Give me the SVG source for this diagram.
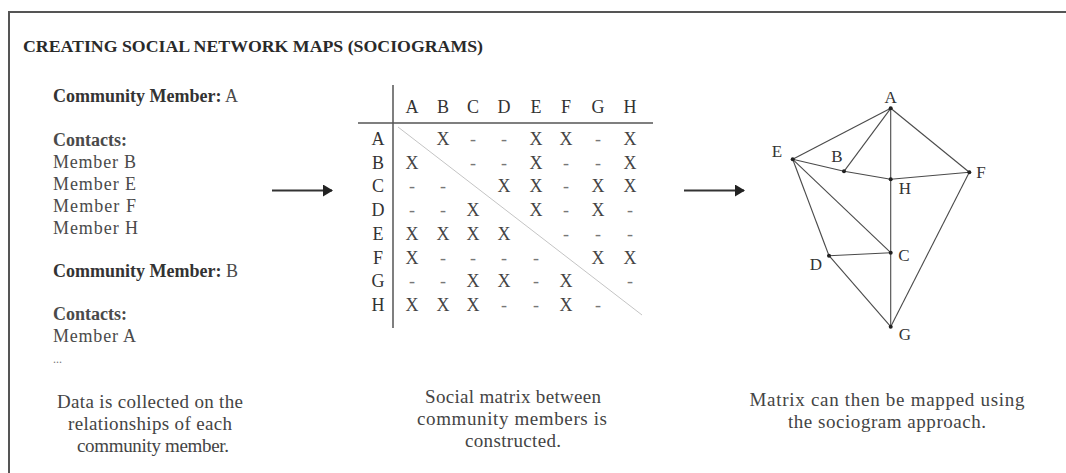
<svg xmlns="http://www.w3.org/2000/svg" width="1066" height="473" viewBox="0 0 1066 473">
<style>
text{font-family:"Liberation Serif","Times New Roman",serif;}
.title{font-size:17px;font-weight:bold;fill:#2a2a2a;}
.b{font-weight:bold;fill:#333;}
.body{font-size:18px;fill:#4a4a4a;}
.cap{font-size:19px;fill:#444;text-anchor:middle;}
.mh{font-size:18px;fill:#333;text-anchor:middle;}
.mc{font-size:18px;fill:#444;text-anchor:middle;}
.md{font-size:18px;fill:#777;text-anchor:middle;}
.nl{font-size:17px;fill:#333;text-anchor:middle;}
.edge{stroke:#4a4a4a;stroke-width:1.1;fill:none;}
.dot{fill:#222;}
.arr{stroke:#333;stroke-width:2.2;fill:none;}
</style>
<defs>
<marker id="ah" viewBox="0 0 10 12" refX="9" refY="6" markerWidth="10" markerHeight="12" markerUnits="userSpaceOnUse" orient="auto">
<path d="M0,0 L10,6 L0,12 Z" fill="#222"/>
</marker>
</defs>
<rect width="1066" height="473" fill="#fff"/>
<path d="M9,473 L9,12 L1066,12" stroke="#555" stroke-width="2" fill="none"/>
<text class="title" x="23" y="52" textLength="460" lengthAdjust="spacingAndGlyphs">CREATING SOCIAL NETWORK MAPS (SOCIOGRAMS)</text>

<g id="member-list">
<text class="body" x="53" y="102"><tspan class="b">Community Member:</tspan> A</text>
<text class="body b" x="53" y="146">Contacts:</text>
<text class="body" x="53" y="168" textLength="83">Member B</text>
<text class="body" x="53" y="190" textLength="83">Member E</text>
<text class="body" x="53" y="212" textLength="83">Member F</text>
<text class="body" x="53" y="234" textLength="85">Member H</text>
<text class="body" x="53" y="277"><tspan class="b">Community Member:</tspan> B</text>
<text class="body b" x="53" y="320">Contacts:</text>
<text class="body" x="53" y="342" textLength="83">Member A</text>
<text class="body" x="53" y="363" style="font-size:12px;fill:#777">...</text>
</g>

<g id="matrix">
<line x1="393" y1="85" x2="393" y2="328" stroke="#555" stroke-width="1.5"/>
<line x1="358" y1="123" x2="653" y2="123" stroke="#555" stroke-width="1.5"/>
<line x1="398" y1="127" x2="642" y2="315" stroke="#c4c4c4" stroke-width="1"/>
<g class="mh">
<text x="412" y="113">A</text><text x="443" y="113">B</text><text x="473" y="113">C</text><text x="504" y="113">D</text><text x="536" y="113">E</text><text x="566" y="113">F</text><text x="598" y="113">G</text><text x="630" y="113">H</text>
<text x="378" y="145">A</text><text x="378" y="168.7">B</text><text x="378" y="192.4">C</text><text x="378" y="216">D</text><text x="378" y="239.8">E</text><text x="378" y="263.5">F</text><text x="378" y="287.2">G</text><text x="378" y="311">H</text>
</g>
<g class="mc">
<text x="443" y="145">X</text><text x="536" y="145">X</text><text x="566" y="145">X</text><text x="630" y="145">X</text>
<text x="412" y="168.7">X</text><text x="536" y="168.7">X</text><text x="630" y="168.7">X</text>
<text x="504" y="192.4">X</text><text x="536" y="192.4">X</text><text x="598" y="192.4">X</text><text x="630" y="192.4">X</text>
<text x="473" y="216">X</text><text x="536" y="216">X</text><text x="598" y="216">X</text>
<text x="412" y="239.8">X</text><text x="443" y="239.8">X</text><text x="473" y="239.8">X</text><text x="504" y="239.8">X</text>
<text x="412" y="263.5">X</text><text x="598" y="263.5">X</text><text x="630" y="263.5">X</text>
<text x="473" y="287.2">X</text><text x="504" y="287.2">X</text><text x="566" y="287.2">X</text>
<text x="412" y="311">X</text><text x="443" y="311">X</text><text x="473" y="311">X</text><text x="566" y="311">X</text>
</g>
<g class="md">
<text x="473" y="145">-</text><text x="504" y="145">-</text><text x="598" y="145">-</text>
<text x="473" y="168.7">-</text><text x="504" y="168.7">-</text><text x="566" y="168.7">-</text><text x="598" y="168.7">-</text>
<text x="412" y="192.4">-</text><text x="443" y="192.4">-</text><text x="566" y="192.4">-</text>
<text x="412" y="216">-</text><text x="443" y="216">-</text><text x="566" y="216">-</text><text x="630" y="216">-</text>
<text x="566" y="239.8">-</text><text x="598" y="239.8">-</text><text x="630" y="239.8">-</text>
<text x="443" y="263.5">-</text><text x="473" y="263.5">-</text><text x="504" y="263.5">-</text><text x="536" y="263.5">-</text>
<text x="412" y="287.2">-</text><text x="443" y="287.2">-</text><text x="536" y="287.2">-</text><text x="630" y="287.2">-</text>
<text x="504" y="311">-</text><text x="536" y="311">-</text><text x="598" y="311">-</text>
</g>
</g>

<g id="connectors">
<line class="arr" x1="272" y1="190.5" x2="332" y2="190.5" marker-end="url(#ah)"/>
<line class="arr" x1="684" y1="190.5" x2="744" y2="190.5" marker-end="url(#ah)"/>
<g class="edge">
<line x1="890.7" y1="108.3" x2="792.7" y2="159.3"/>
<line x1="890.7" y1="108.3" x2="844" y2="171.3"/>
<line x1="890.7" y1="108.3" x2="969.3" y2="172.3"/>
<line x1="890.7" y1="108.3" x2="890.7" y2="326.7"/>
<line x1="792.7" y1="159.3" x2="844" y2="171.3"/>
<line x1="844" y1="171.3" x2="890.7" y2="179.3"/>
<line x1="890.7" y1="179.3" x2="969.3" y2="172.3"/>
<line x1="792.7" y1="159.3" x2="890.7" y2="252.7"/>
<line x1="792.7" y1="159.3" x2="829" y2="255.7"/>
<line x1="829" y1="255.7" x2="890.7" y2="252.7"/>
<line x1="829" y1="255.7" x2="890.7" y2="326.7"/>
<line x1="969.3" y1="172.3" x2="890.7" y2="326.7"/>
</g>
</g>

<g id="node-A"><circle class="dot" cx="890.7" cy="108.3" r="2"/><text class="nl" x="890.7" y="102.5">A</text></g>
<g id="node-E"><circle class="dot" cx="792.7" cy="159.3" r="2"/><text class="nl" x="777" y="157">E</text></g>
<g id="node-B"><circle class="dot" cx="844" cy="171.3" r="2"/><text class="nl" x="837" y="162">B</text></g>
<g id="node-H"><circle class="dot" cx="890.7" cy="179.3" r="2"/><text class="nl" x="905" y="194">H</text></g>
<g id="node-F"><circle class="dot" cx="969.3" cy="172.3" r="2"/><text class="nl" x="981" y="178">F</text></g>
<g id="node-C"><circle class="dot" cx="890.7" cy="252.7" r="2"/><text class="nl" x="904" y="261">C</text></g>
<g id="node-D"><circle class="dot" cx="829" cy="255.7" r="2"/><text class="nl" x="816" y="270">D</text></g>
<g id="node-G"><circle class="dot" cx="890.7" cy="326.7" r="2"/><text class="nl" x="905" y="340">G</text></g>

<g id="captions">
<text class="cap" x="150" y="408" textLength="186">Data is collected on the</text>
<text class="cap" x="150" y="430" textLength="164">relationships of each</text>
<text class="cap" x="153" y="452" textLength="152">community member.</text>
<text class="cap" x="513" y="403" textLength="176">Social matrix between</text>
<text class="cap" x="512" y="425" textLength="190">community members is</text>
<text class="cap" x="513" y="447" textLength="96">constructed.</text>
<text class="cap" x="887" y="406" textLength="275">Matrix can then be mapped using</text>
<text class="cap" x="887" y="428" textLength="198">the sociogram approach.</text>
</g>
</svg>
